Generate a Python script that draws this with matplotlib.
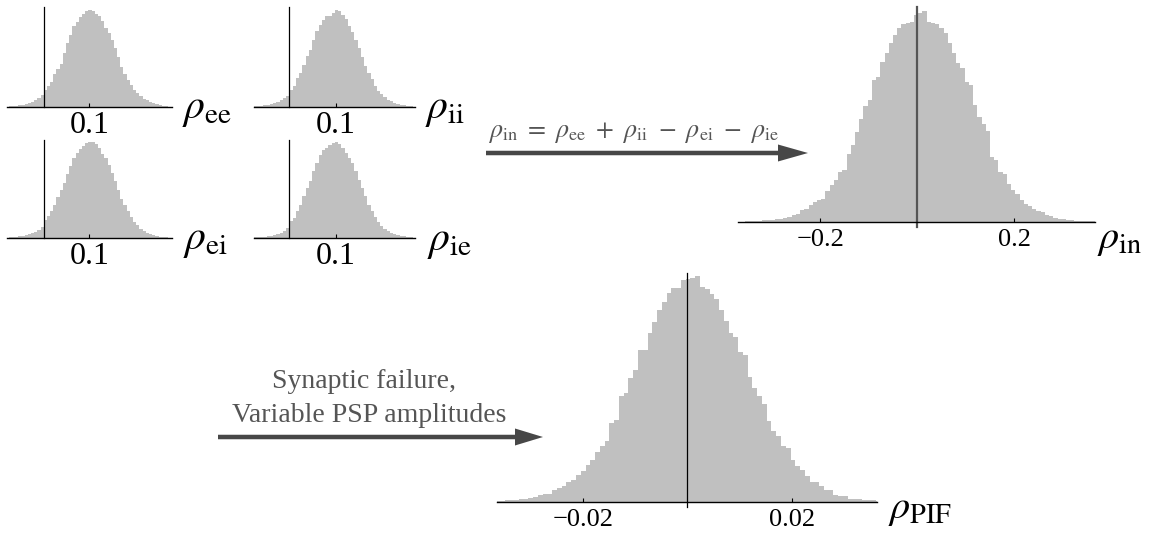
import numpy as np
import matplotlib
matplotlib.use("Agg")
import matplotlib.pyplot as plt
from matplotlib.patches import FancyArrow

# Figure size in pixels
W, H = 1156, 536

# Small histograms: common bins
small_start = -0.077
small_width = 0.007

rho_ee_counts = [2, 3, 4, 5, 7, 9, 12, 15, 22, 28, 37, 52, 62, 75, 98, 115, 130, 160, 190, 215,
                 242, 255, 268, 278, 288, 290, 287, 278, 272, 258, 235, 220, 200, 175, 150, 120, 100, 80, 65, 52,
                 42, 32, 25, 20, 15, 11, 8, 6, 4, 2]
rho_ii_counts = [2, 3, 4, 5, 7, 9, 12, 16, 20, 26, 34, 50, 62, 85, 102, 125, 150, 170, 200, 225,
                 245, 258, 270, 270, 280, 288, 285, 272, 262, 240, 222, 200, 175, 148, 122, 100, 82, 62, 48, 38,
                 30, 22, 17, 12, 9, 6, 5, 3, 2, 1]
rho_ei_counts = [2, 3, 4, 5, 6, 8, 11, 14, 19, 24, 32, 55, 66, 80, 100, 122, 145, 165, 190, 215,
                 240, 255, 265, 276, 285, 288, 286, 280, 270, 250, 238, 218, 195, 170, 145, 118, 100, 80, 62, 48,
                 38, 28, 22, 16, 12, 9, 6, 4, 3, 2]
rho_ie_counts = [2, 3, 3, 4, 5, 7, 9, 12, 16, 22, 30, 50, 60, 80, 100, 125, 150, 170, 200, 225,
                 248, 262, 270, 278, 285, 288, 282, 268, 255, 240, 225, 200, 172, 150, 125, 100, 80, 62, 48, 36,
                 28, 22, 16, 12, 9, 6, 5, 3, 2, 1]

# rho_in histogram
rho_in_start = -0.3721
rho_in_width = 0.0087
rho_in_counts = [1, 1, 2, 2, 3, 4, 5, 5, 7, 8, 10, 12, 15, 20, 25, 37, 40, 50, 60, 67,
                 70, 93, 110, 125, 150, 155, 205, 230, 270, 310, 347, 365, 425, 433, 480, 505, 535, 560, 580, 593,
                 595, 600, 620,
                 625, 632, 600, 597, 593, 580, 567, 535, 507, 475, 460, 420, 410, 350, 315, 295, 272, 195, 185, 150,
                 143, 115, 97, 85, 67, 53, 48, 40, 32, 30, 20, 17, 13, 10, 8, 6, 6, 4, 4, 3, 3, 2, 1]

# rho_PIF histogram
pif_start = -0.03695
pif_width = 0.000915
pif_counts = [3, 4, 5, 6, 7, 8, 10, 12, 15, 20, 23, 25, 35, 42, 47, 60, 67, 82, 92, 112,
              127, 149, 167, 182, 237, 247, 319, 327, 372, 397, 457, 457, 507, 542, 577, 602, 629, 642, 642, 667,
              669, 672, 679, 647, 640, 625, 609, 577, 545, 509, 495, 452, 442, 377, 342, 319, 295, 242, 212, 197,
              167, 162, 125, 107, 97, 77, 60, 59, 47, 37, 35, 22, 17, 17, 10, 9, 8, 7, 6, 5, 4]

plt.rcParams["font.family"] = ["Liberation Serif", "DejaVu Serif"]
plt.rcParams["mathtext.fontset"] = "stix"

fig = plt.figure(figsize=(W / 100, H / 100), dpi=100)


def px_axes(left, top, right, bottom):
    return fig.add_axes([left / W, 1 - bottom / H, (right - left) / W, (bottom - top) / H])


def draw_hist(box, start, width, counts, xlim, ymax, ticks, labels, fsize, pad,
              vcolor="black", vlw=0.9, below=0):
    ax = px_axes(*box)
    edges = start + width * np.arange(len(counts) + 1)
    ax.stairs(counts, edges, fill=True, color="#c0c0c0", lw=0)
    ax.set_xlim(*xlim)
    ax.set_ylim(0, ymax)
    ax.patch.set_alpha(0)
    for s in ["top", "right", "left"]:
        ax.spines[s].set_visible(False)
    ax.spines["bottom"].set_linewidth(1.0)
    ax.set_yticks([])
    ax.set_xticks(ticks, labels)
    ax.tick_params(axis="x", direction="in", length=3, width=0.8, pad=pad, labelsize=fsize)
    # y axis through zero, slightly past the x axis on the big ones
    box_h = box[3] - box[1]
    ax.plot([0, 0], [-below * ymax / box_h, ymax], color=vcolor, lw=vlw, clip_on=False)
    return ax


small_edges = (small_start, small_width)
draw_hist((7, 7, 172, 107), *small_edges, rho_ee_counts, (-0.0805, 0.2814), 299,
          [0.1], ["0.1"], 23, 3)
draw_hist((254, 7, 415, 107), *small_edges, rho_ii_counts, (-0.0761, 0.2709), 297,
          [0.1], ["0.1"], 23, 3)
draw_hist((7, 140, 172, 238), *small_edges, rho_ei_counts, (-0.0805, 0.2814), 293,
          [0.1], ["0.1"], 23, 3)
draw_hist((254, 140, 415, 238), *small_edges, rho_ie_counts, (-0.0761, 0.2709), 293,
          [0.1], ["0.1"], 23, 3)

draw_hist((738, 7, 1095, 222), rho_in_start, rho_in_width, rho_in_counts, (-0.3697, 0.3664), 644,
          [-0.2, 0.2], ["\u22120.2", "0.2"], 19, 5, vcolor="#555555", vlw=1.6, below=5)
draw_hist((497, 273, 877, 502), pif_start, pif_width, pif_counts, (-0.03656, 0.03637), 688,
          [-0.02, 0.02], ["\u22120.02", "0.02"], 19, 5, below=5)

# Overlay in pixel coordinates for labels and arrows
ov = fig.add_axes([0, 0, 1, 1])
ov.set_xlim(0, W)
ov.set_ylim(H, 0)
ov.axis("off")

ov.text(182, 118, r"$\rho_{\mathrm{ee}}$", fontsize=30, va="baseline")
ov.text(425, 118, r"$\rho_{\mathrm{ii}}$", fontsize=30, va="baseline")
ov.text(183, 249, r"$\rho_{\mathrm{ei}}$", fontsize=30, va="baseline")
ov.text(427, 250, r"$\rho_{\mathrm{ie}}$", fontsize=30, va="baseline")
ov.text(1097, 248, r"$\rho_{\mathrm{in}}$", fontsize=29, va="baseline")
ov.text(888, 518, r"$\rho_{\mathrm{PIF}}$", fontsize=29, va="baseline")

grey = "#555555"
formula = (r"$\rho_{\mathrm{in}}\ =\ \rho_{\mathrm{ee}}\ +\ \rho_{\mathrm{ii}}\ -\ "
           r"\rho_{\mathrm{ei}}\ -\ \rho_{\mathrm{ie}}$")
ov.text(634, 137, formula, fontsize=18.7, color=grey, ha="center", va="baseline")
ov.text(364, 382, "Synaptic failure,", fontsize=20, color=grey, ha="center", va="center")
ov.text(369, 415, "Variable PSP amplitudes", fontsize=20, color=grey, ha="center", va="center")

arrow_col = "#474747"
ov.add_patch(FancyArrow(486, 153, 322, 0, width=4.5, head_width=17, head_length=30,
                        length_includes_head=True, color=arrow_col, lw=0))
ov.add_patch(FancyArrow(218, 437, 325, 0, width=4.5, head_width=17, head_length=28,
                        length_includes_head=True, color=arrow_col, lw=0))

fig.savefig("out.png", dpi=100)
